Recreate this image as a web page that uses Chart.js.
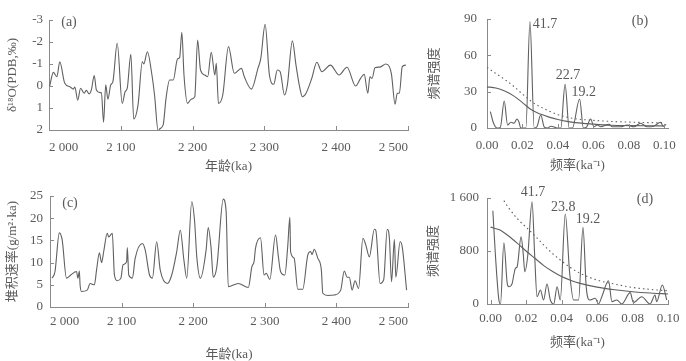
<!DOCTYPE html>
<html>
<head>
<meta charset="utf-8">
<script src="https://cdn.jsdelivr.net/npm/chart.js@4"></script>
<style>
  html, body { margin: 0; background: #fff; }
  #wrap { position: relative; width: 686px; height: 361px; overflow: hidden; }
  canvas { position: absolute; }
</style>
</head>
<body>
<div id="wrap">
  <canvas id="pa" width="440" height="180" style="left:0;top:0"></canvas>
  <canvas id="pc" width="440" height="183" style="left:0;top:178px"></canvas>
  <canvas id="pb" width="266" height="180" style="left:420px;top:0"></canvas>
  <canvas id="pd" width="266" height="183" style="left:420px;top:178px"></canvas>
</div>
<script>
// (a) delta 18O record
const ageA = [2001, 2006, 2011, 2015, 2022, 2029, 2034, 2036, 2040, 2044, 2049, 2052, 2056, 2059, 2063, 2066,
  2071, 2073, 2076, 2079, 2082, 2086, 2089, 2095, 2102, 2106, 2109, 2114, 2118, 2124, 2130, 2132, 2137, 2143,
  2147, 2152, 2154, 2159, 2163, 2168, 2173, 2179, 2182, 2185, 2188, 2193, 2198, 2203, 2207, 2211, 2217, 2221,
  2226, 2231, 2233, 2236, 2242, 2250, 2258, 2268, 2272, 2282, 2291, 2295, 2301, 2307, 2313, 2318, 2322, 2328,
  2332, 2339, 2344, 2349, 2353, 2358, 2366, 2373, 2380, 2392, 2404, 2415, 2427, 2434, 2439, 2444, 2447, 2450,
  2454, 2461, 2469, 2474, 2477, 2482, 2485, 2488, 2492, 2497];
const d18O = [0.0, -0.62, -0.42, -1.1, -0.12, 0.03, 0.14, 0.05, 0.64, 0.1, 0.33, 0.2, 0.36, 0.18, -0.47, 0.18,
  0.3, 0.3, 1.65, -0.05, 0.6, -0.05, -0.2, -1.94, 0.79, 0.26, 0.1, -1.44, 1.5, 0.86, -1.1, -1.0, -1.56, -0.58,
  0.41, 2.05, 1.95, 1.77, 0.56, -0.27, -0.27, -1.23, -1.3, -2.44, -0.5, 0.79, 0.6, 0.49, -2.09, -0.73, -0.5, -0.42,
  -1.53, -0.5, -1.03, 0.79, 0.41, -1.79, -0.58, -0.8, -0.42, 0.14, -0.8, -1.26, -2.8, -0.5, -0.08, -0.73, -0.65, 0.41,
  -0.05, -2.05, -0.95, 0.03, 0.49, 0.33, -0.35, -1.08, -0.65, -0.95, -0.5, -0.85, 0.0, -0.35, -0.53, 0.33, -0.42, -0.35,
  -0.83, -0.86, -1.0, -0.88, -0.53, 0.83, 0.33, 0.33, -0.88, -0.95];

// (c) accumulation rate
const ageC = [2003, 2007, 2013, 2017, 2023, 2029, 2037, 2039, 2041, 2042, 2044, 2052, 2056, 2062, 2065, 2069,
  2072, 2075, 2080, 2082, 2087, 2090, 2094, 2099, 2102, 2107, 2108, 2110, 2115, 2119, 2129, 2133, 2139, 2143,
  2149, 2154, 2164, 2170, 2177, 2182, 2187, 2191, 2198, 2202, 2205, 2210, 2218, 2221, 2225, 2228, 2233, 2242,
  2246, 2249, 2263, 2277, 2282, 2285, 2287, 2294, 2299, 2302, 2307, 2315, 2319, 2322, 2328, 2332, 2335, 2336,
  2341, 2346, 2353, 2360, 2364, 2366, 2369, 2374, 2379, 2381, 2388, 2397, 2406, 2411, 2415, 2418, 2422, 2426,
  2431, 2437, 2441, 2446, 2453, 2455, 2461, 2466, 2471, 2474, 2477, 2481, 2483, 2489, 2492, 2498];
const sedRate = [6.5, 8.0, 16.7, 15.1, 6.5, 7.2, 8.0, 6.5, 8.1, 5.0, 3.5, 3.8, 5.3, 5.0, 8.3, 12.2,
  10.0, 12.5, 16.6, 15.8, 16.6, 7.2, 5.9, 6.5, 9.5, 10.2, 13.4, 7.2, 6.5, 11.0, 14.3, 12.8, 7.2, 6.5,
  14.7, 8.3, 5.3, 7.2, 12.5, 17.3, 10.6, 6.5, 23.7, 19.2, 11.3, 6.5, 12.8, 17.9, 13.2, 6.7, 9.1, 24.3,
  21.5, 4.6, 5.3, 4.4, 9.1, 10.2, 13.2, 15.6, 7.2, 7.6, 6.2, 16.2, 11.3, 8.0, 7.2, 13.6, 20.2, 12.5,
  11.0, 4.0, 4.0, 11.7, 12.5, 11.8, 13.0, 11.0, 8.3, 3.1, 2.6, 2.7, 3.8, 8.1, 6.7, 6.7, 3.8, 5.9,
  4.2, 15.5, 14.0, 11.3, 17.5, 17.3, 5.3, 6.1, 17.5, 15.5, 5.7, 15.2, 6.7, 14.7, 13.5, 3.8];

// (b) spectrum of delta 18O
const freqB = [0.0019, 0.0037, 0.0056, 0.0075, 0.0097, 0.0116, 0.0135, 0.0152, 0.0169, 0.018, 0.019, 0.0219,
  0.0242, 0.0266, 0.0281, 0.0303, 0.0322, 0.0341, 0.036, 0.0397, 0.0416, 0.044, 0.0463, 0.0481, 0.0522, 0.0543,
  0.0562, 0.0584, 0.0603, 0.0622, 0.0641, 0.0687, 0.0706, 0.0753, 0.079, 0.0828, 0.0865, 0.0903, 0.094, 0.0978,
  0.0993, 0.101];
const powerB = [13.5, 3.9, 0, 0.5, 22.3, 2.5, 4.7, 3.9, 7.4, 5.0, 0, 0,
  87.8, 0, 1, 10.7, 1, 0, 1.5, 0, 0, 36, 0, 0, 24, 0,
  1, 7.4, 1, 2.5, 1, 3.0, 1, 1, 2.5, 1, 3.9, 1, 1.5, 4.7,
  1.5, 3];
const freqGrid = [0, 0.005, 0.01, 0.015, 0.02, 0.025, 0.03, 0.035, 0.04, 0.045, 0.05, 0.06, 0.07, 0.08, 0.09, 0.1];
const redB = [34, 33, 30.5, 26.5, 21, 15, 11.5, 9, 7, 5.5, 4.4, 3.2, 2.3, 2.0, 1.8, 1.7];
const confB = [50, 45, 40, 34.5, 28, 22, 17.5, 14, 11, 9, 7.6, 6.3, 5.4, 4.9, 4.5, 4.2];
const peakPeriodB = ['41.7', '22.7', '19.2'];
const peakFreqB = [0.0242, 0.044, 0.0522];
const peakPowB = [87.8, 36, 24];

// (d) spectrum of accumulation rate
const freqD = [0.0013, 0.0028, 0.0047, 0.0056, 0.0075, 0.0094, 0.0103, 0.0122, 0.0131, 0.014, 0.015, 0.0172,
  0.0184, 0.0193, 0.021, 0.0234, 0.0249, 0.0262, 0.0281, 0.0299, 0.0318, 0.0337, 0.0356, 0.0375, 0.0393, 0.0421,
  0.0446, 0.0468, 0.0496, 0.0521, 0.0539, 0.0558, 0.059, 0.0608, 0.0627, 0.0665, 0.0684, 0.0712, 0.074, 0.0787,
  0.0805, 0.0852, 0.0899, 0.0927, 0.0936, 0.0968, 0.0993];
const powerD = [1408, 714, 60, 0, 925, 312, 261, 312, 438, 538, 563, 1016,
  765, 488, 740, 1544, 714, 110, 211, 60, 302, 60, 0, 261, 60, 1358,
  463, 60, 60, 1157, 261, 60, 86, 0, 110, 352, 35, 60, 0, 171,
  20, 110, 0, 136, 35, 287, 60];
const redD = [1160, 1120, 1030, 920, 800, 690, 580, 490, 415, 360, 315, 255, 215, 185, 165, 152];
const confFreqD = [0.0075, 0.01, 0.015, 0.02, 0.025, 0.03, 0.035, 0.04, 0.045, 0.05, 0.06, 0.07, 0.08, 0.09, 0.1];
const confD = [1560, 1460, 1290, 1160, 1030, 890, 760, 650, 550, 470, 362, 300, 250, 220, 200];
const peakPeriodD = ['41.7', '23.8', '19.2'];
const peakFreqD = [0.0234, 0.0421, 0.0521];
const peakPowD = [1544, 1358, 1157];

const FONT = "'Liberation Serif', 'Noto Sans CJK SC', serif";
const INK = '#606060';
const AXIS = '#8a8a8a';
const TEXT = '#5a5a5a';

const pairs = (xs, ys) => xs.map((x, i) => ({ x, y: ys[i] }));
const spaced = (v) => String(v).replace(/\B(?=(\d{3})+(?!\d))/g, ' ');

function line(xs, ys, extra) {
  return Object.assign({
    data: pairs(xs, ys),
    borderColor: INK,
    borderWidth: 1.1,
    pointRadius: 0,
    cubicInterpolationMode: 'monotone',
    fill: false,
  }, extra);
}

// short inward tick marks, panel letter and peak labels
const decoPlugin = {
  id: 'deco',
  afterDraw(chart, args, opts) {
    const { ctx, chartArea: a, scales: { x, y } } = chart;
    ctx.save();
    ctx.strokeStyle = AXIS;
    ctx.lineWidth = 1;
    ctx.beginPath();
    x.ticks.forEach((t) => {
      const px = Math.round(x.getPixelForValue(t.value)) + 0.5;
      ctx.moveTo(px, a.bottom);
      ctx.lineTo(px, a.bottom - 4);
    });
    y.ticks.forEach((t) => {
      const py = Math.round(y.getPixelForValue(t.value)) + 0.5;
      ctx.moveTo(a.left, py);
      ctx.lineTo(a.left + 4, py);
    });
    ctx.stroke();

    ctx.fillStyle = TEXT;
    ctx.textBaseline = 'middle';
    ctx.textAlign = 'center';
    ctx.font = `14px ${FONT}`;
    const lx = opts.fromRight ? a.right - opts.letterDx : a.left + opts.letterDx;
    ctx.fillText(opts.letter, lx, a.top + opts.letterDy);
    (opts.notes || []).forEach((n) => {
      ctx.fillText(n.text, x.getPixelForValue(n.x) + n.dx, y.getPixelForValue(n.y) + n.dy);
    });
    ctx.restore();
  },
};

function makePanel(id, geo, datasets, xOpts, yOpts, deco) {
  return new Chart(document.getElementById(id), {
    type: 'line',
    data: { datasets },
    plugins: [decoPlugin],
    options: {
      responsive: false,
      animation: false,
      events: [],
      layout: { padding: { top: geo.top, right: geo.right, left: 0, bottom: 0 } },
      plugins: { legend: { display: false }, tooltip: { enabled: false }, deco },
      scales: {
        x: Object.assign({
          type: 'linear',
          grid: { display: false, drawTicks: false },
          border: { display: true, color: AXIS, width: 1 },
          afterFit(s) { s.height = geo.xH; s.paddingLeft = 0; s.paddingRight = 0; },
        }, xOpts),
        y: Object.assign({
          type: 'linear',
          grid: { display: false, drawTicks: false },
          border: { display: true, color: AXIS, width: 1 },
          afterFit(s) { s.width = geo.yW; s.paddingTop = 0; s.paddingBottom = 0; },
        }, yOpts),
      },
    },
  });
}

const tickFont = { family: FONT, size: 13 };
const titleFont = { family: FONT, size: 13, lineHeight: 1 };

const ageAxis = (pad, titlePad) => ({
  min: 2000, max: 2500,
  ticks: { stepSize: 100, includeBounds: false, color: TEXT, font: tickFont, padding: pad, maxRotation: 0,
    align: 'inner', callback: (v) => spaced(v) },
  title: { display: true, text: '年龄(ka)', color: TEXT, font: titleFont, padding: { top: 0, bottom: titlePad } },
});
const freqAxis = (min, max, pad, titlePad) => ({
  min, max,
  ticks: { stepSize: 0.02, includeBounds: false, color: TEXT, font: tickFont, padding: pad, maxRotation: 0,
    callback: (v) => v.toFixed(2) },
  title: { display: true, text: '频率(ka⁻¹)', color: TEXT, font: titleFont, padding: { top: 0, bottom: titlePad } },
});
const valAxis = (min, max, step, pad, text, titlePad, extra) => Object.assign({
  min, max,
  ticks: { stepSize: step, includeBounds: false, color: TEXT, font: tickFont, padding: pad,
    callback: (v) => spaced(v) },
  title: { display: true, text, color: TEXT, font: titleFont, padding: { top: titlePad, bottom: 0 } },
}, extra);

makePanel('pa', { top: 20, right: 32, xH: 50, yW: 49 },
  [line(ageA, d18O)],
  ageAxis(10, 6.5),
  valAxis(-3, 2, 1, 6, 'δ¹⁸O(PDB,‰)', 6.5, { reverse: true }),
  { letter: '(a)', letterDx: 20, letterDy: 2.5 });

makePanel('pc', { top: 18, right: 32, xH: 54, yW: 50 },
  [line(ageC, sedRate)],
  ageAxis(7, 0),
  valAxis(0, 25, 5, 7, '堆积速率(g/m²·ka)', 6.5),
  { letter: '(c)', letterDx: 20, letterDy: 7 });

makePanel('pb', { top: 19, right: 18, xH: 52, yW: 67 },
  [
    line(freqB, powerB),
    line(freqGrid, redB),
    line(freqGrid, confB, { borderDash: [1.5, 3] }),
  ],
  freqAxis(0, 0.102, 10, 7.5),
  valAxis(0, 90, 30, 10, '频谱强度', 8.5),
  { letter: '(b)', letterDx: 28, letterDy: 2, fromRight: true,
    notes: peakPeriodB.map((text, i) => ({ text, x: peakFreqB[i], y: peakPowB[i],
      dx: [15, 3, 4][i], dy: [3, -9, -7][i] })) });

makePanel('pd', { top: 20, right: 18, xH: 57, yW: 67 },
  [
    line(freqD, powerD),
    line(freqGrid, redD),
    line(confFreqD, confD, { borderDash: [1.5, 3] }),
  ],
  freqAxis(-0.002, 0.1, 7, 11.5),
  valAxis(0, 1600, 800, 8, '频谱强度', 7.5),
  { letter: '(d)', letterDx: 23, letterDy: 1, fromRight: true,
    notes: peakPeriodD.map((text, i) => ({ text, x: peakFreqD[i], y: peakPowD[i],
      dx: [1, -2, 5][i], dy: [-9, -7, -8][i] })) });
</script>
</body>
</html>
